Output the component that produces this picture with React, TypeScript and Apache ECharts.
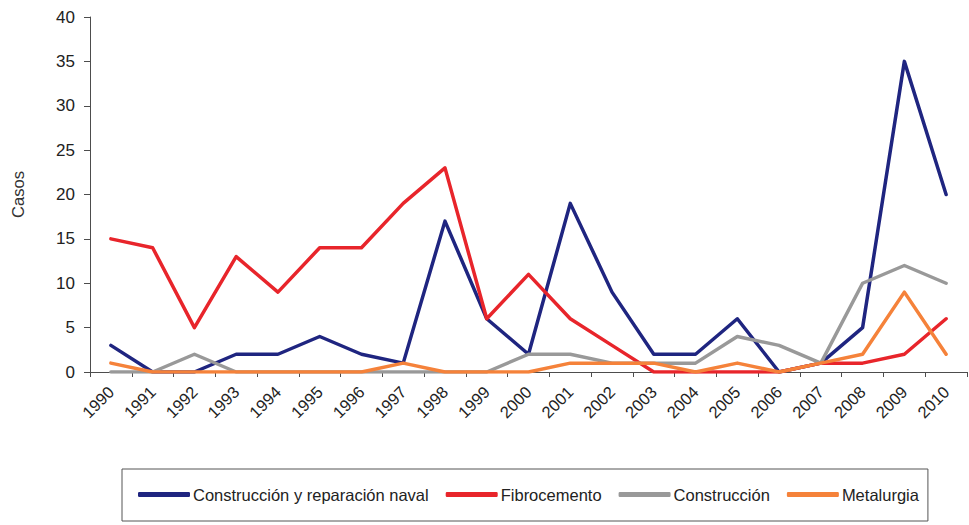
import React, { useEffect, useRef } from "react";
import * as echarts from "echarts";

const years = ["1990","1991","1992","1993","1994","1995","1996","1997","1998","1999","2000","2001","2002","2003","2004","2005","2006","2007","2008","2009","2010"];
const naval = [3, 0, 0, 2, 2, 4, 2, 1, 17, 6, 2, 19, 9, 2, 2, 6, 0, 1, 5, 35, 20];
const fibrocemento = [15, 14, 5, 13, 9, 14, 14, 19, 23, 6, 11, 6, 3, 0, 0, 0, 0, 1, 1, 2, 6];
const construccion = [0, 0, 2, 0, 0, 0, 0, 0, 0, 0, 2, 2, 1, 1, 1, 4, 3, 1, 10, 12, 10];
const metalurgia = [1, 0, 0, 0, 0, 0, 0, 1, 0, 0, 0, 1, 1, 1, 0, 1, 0, 1, 2, 9, 2];
const seriesNames = ["Construcción y reparación naval", "Fibrocemento", "Construcción", "Metalurgia"];
const yTicks = { min: 0, max: 40, interval: 5 };

const FONT = "'Liberation Sans', Arial, sans-serif";

export default function App() {
  const ref = useRef<HTMLDivElement>(null);
  useEffect(() => {
    if (!ref.current) return;
    const chart = echarts.init(ref.current, null, { renderer: "svg" });
    const colors = ["#1f2580", "#e8252b", "#999999", "#f5823a"];
    const datasets = [naval, fibrocemento, construccion, metalurgia];
    chart.setOption({
      animation: false,
      backgroundColor: "#ffffff",
      textStyle: { fontFamily: FONT },
      grid: { left: 90, right: 2, top: 17, bottom: 153 },
      legend: {
        left: 122,
        top: 469,
        width: 818,
        padding: [17, 9, 18, 16],
        borderColor: "#555555",
        borderWidth: 1,
        icon: "roundRect",
        itemWidth: 52,
        itemHeight: 5,
        itemGap: 17,
        textStyle: { fontSize: 16.5, color: "#222222", fontFamily: FONT, padding: [0, 0, 0, -2] },
        data: seriesNames,
      },
      xAxis: {
        type: "category",
        data: years,
        boundaryGap: true,
        axisLine: { lineStyle: { color: "#4d4d4d", width: 1 } },
        axisTick: { show: true, length: 5, lineStyle: { color: "#4d4d4d" } },
        axisLabel: { rotate: 45, fontSize: 16.5, color: "#222222", margin: 17, interval: 0, fontFamily: FONT },
      },
      yAxis: {
        type: "value",
        min: yTicks.min,
        max: yTicks.max,
        interval: yTicks.interval,
        name: "Casos",
        nameLocation: "middle",
        nameRotate: 90,
        nameGap: 64,
        nameTextStyle: { fontSize: 16.5, color: "#333333", fontFamily: FONT },
        axisLine: { show: true, lineStyle: { color: "#4d4d4d", width: 1 } },
        axisTick: { show: true, length: 6, lineStyle: { color: "#4d4d4d" } },
        axisLabel: { fontSize: 17, color: "#222222", margin: 15, fontFamily: FONT },
        splitLine: { show: false },
      },
      series: seriesNames.map((name, i) => ({
        name,
        type: "line",
        data: datasets[i],
        symbol: "none",
        lineStyle: { color: colors[i], width: 3.5, cap: "round", join: "round" },
        itemStyle: { color: colors[i] },
        z: 2 + i,
      })),
    });
    return () => chart.dispose();
  }, []);
  return <div ref={ref} style={{ width: 969, height: 525, position: "absolute", left: 0, top: 0 }} />;
}
